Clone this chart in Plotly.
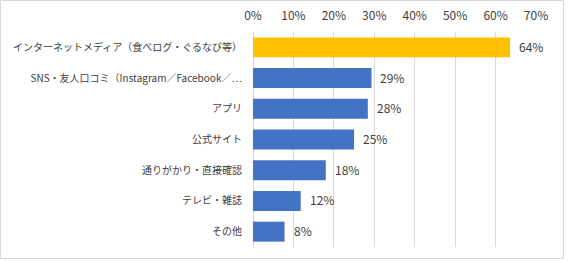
import plotly.graph_objects as go

categories = [
    "インターネットメディア（食べログ・ぐるなび等）",
    "SNS・友人口コミ（Instagram／Facebook／…",
    "アプリ",
    "公式サイト",
    "通りがかり・直接確認",
    "テレビ・雑誌",
    "その他",
]
values = [63.6, 29.3, 28.4, 25.0, 18.0, 11.8, 7.8]
colors = ["#FFC000", "#4472C4", "#4472C4", "#4472C4", "#4472C4", "#4472C4", "#4472C4"]
tick_vals = [0, 10, 20, 30, 40, 50, 60, 70]
tick_text = [f"{v}%" for v in tick_vals]

W, H = 569, 261
L, R, T, B = 253, 33, 32, 14
FONT = "Noto Sans CJK JP"
TXT = "#404040"

fig = go.Figure()
fig.add_trace(go.Bar(
    x=values, y=categories, orientation="h",
    marker=dict(color=colors, line=dict(width=0)),
    hoverinfo="skip",
))

for c, v in zip(categories, values):
    fig.add_annotation(x=v, y=c, text=f"{v:.0f}%", showarrow=False,
                       xanchor="left", xshift=7, yshift=1,
                       font=dict(family=FONT, size=12, color=TXT))

pw = W - L - R
ph = H - T - B
fig.add_shape(type="rect", xref="paper", yref="paper",
              x0=(0.5 - L) / pw, x1=(563.5 - L) / pw,
              y0=(H - B - 258.5) / ph, y1=(H - B - 0.5) / ph,
              line=dict(color="#D9D9D9", width=1), fillcolor="rgba(0,0,0,0)")

fig.update_layout(
    width=W, height=H,
    margin=dict(l=L, r=R, t=T, b=B, autoexpand=False),
    paper_bgcolor="white", plot_bgcolor="white",
    bargap=0.35, showlegend=False,
    font=dict(family=FONT, color=TXT),
)
fig.update_xaxes(
    range=[0, 70], side="top", tickvals=tick_vals, ticktext=tick_text,
    showgrid=True, gridcolor="#D9D9D9", gridwidth=1,
    zeroline=True, zerolinecolor="#D9D9D9", zerolinewidth=1,
    showline=False, ticks="", ticklabelstandoff=9, automargin=False,
    tickfont=dict(family=FONT, size=12, color=TXT),
)
fig.update_yaxes(
    autorange="reversed", showgrid=False, zeroline=False, showline=False,
    ticks="", ticklabelstandoff=10, automargin=False,
    tickfont=dict(family=FONT, size=10, color=TXT),
)

fig.write_html("out.html")
